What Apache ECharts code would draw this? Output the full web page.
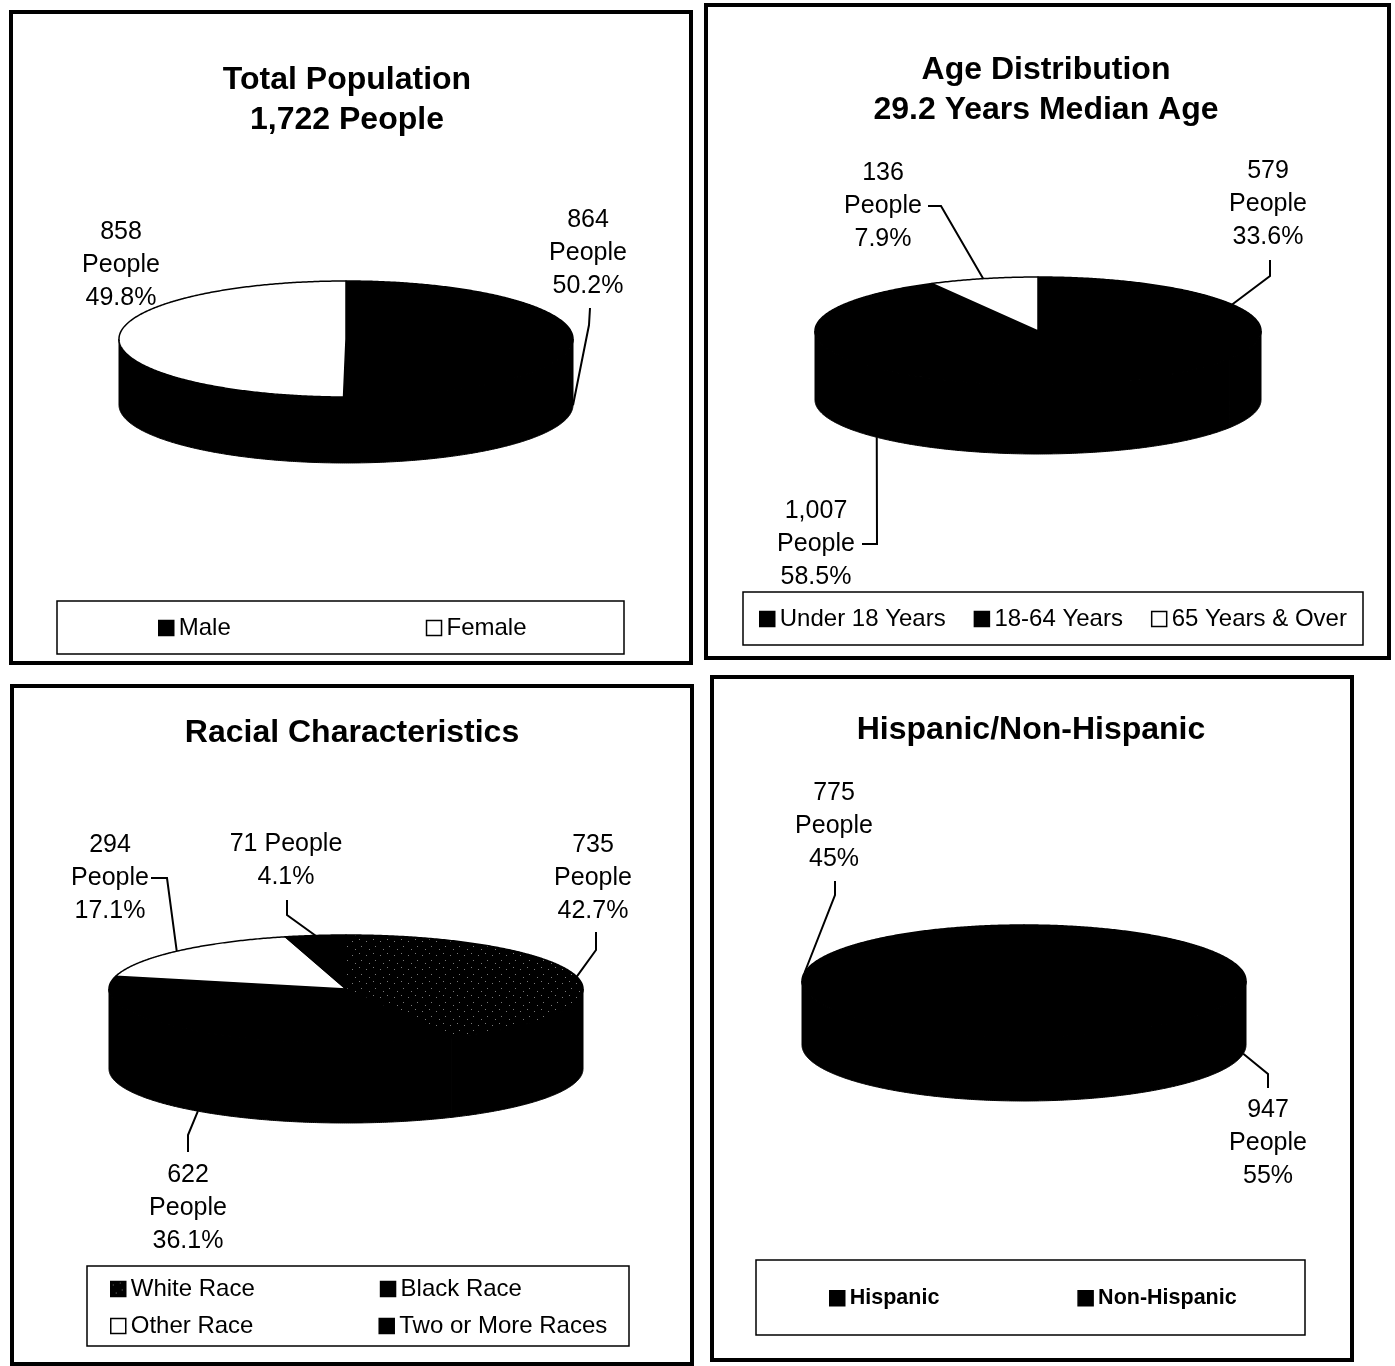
<!DOCTYPE html>
<html>
<head>
<meta charset="utf-8">
<title>Population Profile</title>
<script src="https://cdn.jsdelivr.net/npm/echarts@6/dist/echarts.min.js"></script>
<style>
  html, body { margin: 0; padding: 0; background: #fff; }
  #chart { width: 1395px; height: 1366px; }
</style>
</head>
<body>
<div id="chart"></div>
<script>
// ---- data ----
const sexCategories = ['Male', 'Female'];
const sexValues = [864, 858];

const ageCategories = ['Under 18 Years', '18-64 Years', '65 Years & Over'];
const ageValues = [579, 1007, 136];
const medianAge = 29.2;

const raceCategories = ['White Race', 'Black Race', 'Other Race', 'Two or More Races'];
const raceValues = [735, 622, 294, 71];

const ethnicityCategories = ['Hispanic', 'Non-Hispanic'];
const ethnicityValues = [775, 947];

// ---- styling helpers ----
const FONT = '"Liberation Sans", Arial, Helvetica, sans-serif';
const sum = arr => arr.reduce((s, v) => s + v, 0);
const fmt = v => v.toLocaleString('en-US');

// dark fill with sparse light speckles (used for "White Race")
function speckle() {
  const c = document.createElement('canvas');
  c.width = 14; c.height = 14;
  const g = c.getContext('2d');
  g.fillStyle = '#000';
  g.fillRect(0, 0, 14, 14);
  g.fillStyle = '#7a7a7a';
  [[2, 3], [9, 1], [11, 8], [5, 11]].forEach(([x, y]) => g.fillRect(x, y, 1, 1));
  return { image: c, repeat: 'repeat' };
}
const speckleFill = speckle();

// ---- panel layouts ----
const panels = [
  {
    frame: [11, 12, 680, 651],
    title: 'Total Population\n' + fmt(sum(sexValues)) + ' People',
    titlePos: [347, 100],
    categories: sexCategories, values: sexValues,
    fills: ['#000', '#fff'], clockwise: true, decimals: 1,
    pie: { cx: 346, cy: 339, rx: 227, ry: 58, depth: 66 },
    labels: [
      { x: 588, y: 253, lead: [[590, 308], [589, 325]] },
      { x: 121, y: 265, lead: null }
    ],
    legendBox: [57, 601, 567, 53],
    legendRows: [{ items: [0, 1], left: 158, cy: 628, gap: 195 }]
  },
  {
    frame: [706, 5, 683, 653],
    title: 'Age Distribution\n' + medianAge.toFixed(1) + ' Years Median Age',
    titlePos: [1046, 90],
    categories: ageCategories, values: ageValues,
    fills: ['#000', '#000', '#fff'], clockwise: true, decimals: 1,
    pie: { cx: 1038, cy: 331, rx: 223, ry: 54, depth: 69 },
    labels: [
      { x: 1268, y: 204, lead: [[1270, 260], [1270, 276]] },
      { x: 816, y: 544, lead: [[862, 544], [877, 544]] },
      { x: 883, y: 206, lead: [[928, 206], [941, 206]] }
    ],
    legendBox: [743, 592, 620, 53],
    legendRows: [{ items: [0, 1, 2], left: 759, cy: 619, gap: 28 }]
  },
  {
    frame: [12, 686, 680, 678],
    title: 'Racial Characteristics',
    titlePos: [352, 733],
    categories: raceCategories, values: raceValues,
    fills: [speckleFill, '#000', '#fff', '#000'], clockwise: true, decimals: 1,
    pie: { cx: 346, cy: 989, rx: 237, ry: 54, depth: 80 },
    labels: [
      { x: 593, y: 878, lead: [[596, 932], [596, 950]] },
      { x: 188, y: 1208, lead: [[188, 1152], [188, 1135]] },
      { x: 110, y: 878, lead: [[151, 878], [167, 878]] },
      { x: 286, y: 861, inline: true, lead: [[287, 900], [287, 915]] }
    ],
    legendBox: [87, 1266, 542, 80],
    legendRows: [
      { items: [0, 1], left: 110, cy: 1289, gap: 125 },
      { items: [2, 3], left: 110, cy: 1326, gap: 125 }
    ]
  },
  {
    frame: [712, 677, 640, 683],
    title: 'Hispanic/Non-Hispanic',
    titlePos: [1031, 730],
    categories: ethnicityCategories, values: ethnicityValues,
    fills: ['#000', '#000'], clockwise: false, decimals: 0,
    pie: { cx: 1024, cy: 981, rx: 222, ry: 56, depth: 64 },
    labels: [
      { x: 834, y: 826, lead: [[835, 881], [835, 895]] },
      { x: 1268, y: 1143, lead: [[1268, 1088], [1268, 1074]] }
    ],
    legendBox: [756, 1260, 549, 75],
    legendRows: [{ items: [0, 1], left: 829, cy: 1298, gap: 138, bold: true, fontSize: 21.5 }]
  }
];

// ---- elliptical "3D" pie geometry ----
// angles are degrees from 12 o'clock, running in the panel's direction
function ellipsePoint(p, deg, dir, drop) {
  const r = deg * Math.PI / 180;
  return [p.cx + dir * p.rx * Math.sin(r), p.cy - p.ry * Math.cos(r) + (drop || 0)];
}
function arc(p, a, b, dir, drop) {
  const pts = [];
  const n = Math.max(2, Math.ceil((b - a) / 0.5));
  for (let k = 0; k <= n; k++) pts.push(ellipsePoint(p, a + (b - a) * k / n, dir, drop));
  return pts;
}

function renderSlice(panel, i, a, b) {
  const p = panel.pie;
  const dir = panel.clockwise ? 1 : -1;
  const children = [];

  // visible rim: the part of the slice on the front half of the ellipse
  const f0 = Math.max(a, 90), f1 = Math.min(b, 270);
  if (f1 > f0) {
    const topEdge = arc(p, f0, f1, dir, 0);
    const bottomEdge = arc(p, f0, f1, dir, p.depth).reverse();
    children.push({
      type: 'polygon',
      shape: { points: topEdge.concat(bottomEdge) },
      style: { fill: '#000', stroke: '#000', lineWidth: 1 }
    });
  }

  // top face
  children.push({
    type: 'polygon',
    shape: { points: [[p.cx, p.cy]].concat(arc(p, a, b, dir, 0)) },
    style: { fill: panel.fills[i], stroke: '#000', lineWidth: 1.5, lineJoin: 'round' }
  });

  // data label + leader line
  const total = sum(panel.values);
  const v = panel.values[i];
  const pct = (v / total * 100).toFixed(panel.decimals) + '%';
  const lab = panel.labels[i];
  const text = lab.inline ? fmt(v) + ' People\n' + pct : fmt(v) + '\nPeople\n' + pct;

  if (lab.lead) {
    const mid = (a + b) / 2;
    const front = Math.cos(mid * Math.PI / 180) < 0;
    const anchor = ellipsePoint(p, mid, dir, front ? p.depth : 0);
    children.push({
      type: 'polyline',
      shape: { points: lab.lead.concat([anchor]) },
      style: { fill: null, stroke: '#000', lineWidth: 2 }
    });
  }
  children.push({
    type: 'text',
    x: lab.x, y: lab.y,
    style: {
      text: text, fill: '#000', fontFamily: FONT, fontSize: 25, lineHeight: 33,
      align: 'center', verticalAlign: 'middle'
    }
  });
  return { type: 'group', children: children };
}

// ---- build option ----
const series = [];
const legends = [];
const graphics = [];

panels.forEach(panel => {
  // frame
  graphics.push({
    type: 'rect',
    shape: { x: panel.frame[0], y: panel.frame[1], width: panel.frame[2], height: panel.frame[3] },
    style: { fill: 'none', stroke: '#000', lineWidth: 4 }
  });
  // title
  graphics.push({
    type: 'text',
    x: panel.titlePos[0], y: panel.titlePos[1],
    style: {
      text: panel.title, fill: '#000', fontFamily: FONT, fontSize: 32, fontWeight: 'bold',
      lineHeight: 40, align: 'center', verticalAlign: 'middle'
    }
  });
  // legend box
  graphics.push({
    type: 'rect',
    shape: { x: panel.legendBox[0], y: panel.legendBox[1], width: panel.legendBox[2], height: panel.legendBox[3] },
    style: { fill: 'none', stroke: '#000', lineWidth: 1.5 }
  });

  // slices
  const total = sum(panel.values);
  let acc = 0;
  panel.categories.forEach((name, i) => {
    const a = acc / total * 360;
    acc += panel.values[i];
    const b = acc / total * 360;
    series.push({
      type: 'custom',
      name: name,
      coordinateSystem: 'none',
      silent: true,
      itemStyle: { color: panel.fills[i] === speckleFill ? '#111' : panel.fills[i] },
      data: [panel.values[i]],
      renderItem: () => renderSlice(panel, i, a, b)
    });
  });

  // legend rows
  panel.legendRows.forEach(row => {
    const fs = row.fontSize || 24;
    legends.push({
      left: row.left,
      top: row.cy - fs / 2,
      orient: 'horizontal',
      padding: 0,
      itemGap: row.gap,
      itemWidth: 15,
      itemHeight: 15,
      selectedMode: false,
      textStyle: { fontFamily: FONT, fontSize: fs, color: '#000', fontWeight: row.bold ? 'bold' : 'normal' },
      data: row.items.map(i => ({
        name: panel.categories[i],
        icon: 'rect',
        itemStyle: { color: panel.fills[i], borderColor: '#000', borderWidth: 1.5 }
      }))
    });
  });
});

const chart = echarts.init(document.getElementById('chart'), null, { renderer: 'canvas' });
chart.setOption({
  backgroundColor: '#fff',
  animation: false,
  legend: legends,
  graphic: { elements: graphics },
  series: series
});
</script>
</body>
</html>
